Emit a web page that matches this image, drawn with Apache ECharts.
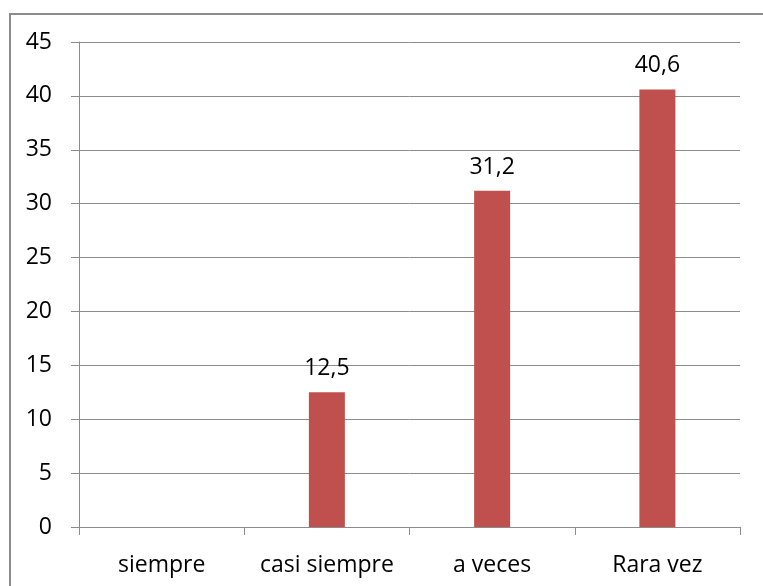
<!DOCTYPE html>
<html>
<head>
<meta charset="utf-8">
<script src="https://cdn.jsdelivr.net/npm/echarts@6/dist/echarts.min.js"></script>
<style>
  html, body { margin: 0; padding: 0; background: #fff; }
  #main { width: 763px; height: 586px; }
</style>
</head>
<body>
<div id="main"></div>
<script>
// chart data
var categories = ['siempre', 'casi siempre', 'a veces', 'Rara vez'];
var values = [0, 12.5, 31.2, 40.6];
var yTicks = { min: 0, max: 45, step: 5 };

var chart = echarts.init(document.getElementById('main'));
var font = '"Open Sans", "Liberation Sans", sans-serif';

chart.setOption({
  animation: false,
  backgroundColor: '#fff',
  grid: { left: 79, right: 23, top: 42, bottom: 59 },
  graphic: [
    // outer chart frame (cut off at right and bottom in the reference)
    { type: 'polyline', shape: { points: [[10, 586], [10, 14], [763, 14]] },
      style: { stroke: '#8c8c8c', lineWidth: 2, fill: null } }
  ],
  xAxis: {
    type: 'category',
    data: categories,
    axisLine: { lineStyle: { color: '#8c8c8c', width: 1 } },
    axisTick: { show: true, length: 8, interval: 0, lineStyle: { color: '#8c8c8c' } },
    axisLabel: { color: '#000', fontFamily: font, fontSize: 23, margin: 27, interval: 0 }
  },
  yAxis: {
    type: 'value',
    min: yTicks.min,
    max: yTicks.max,
    interval: yTicks.step,
    axisLine: { show: true, lineStyle: { color: '#8c8c8c', width: 1 } },
    axisTick: { show: true, length: 8, lineStyle: { color: '#8c8c8c' } },
    axisLabel: { color: '#000', fontFamily: font, fontSize: 23, margin: 27 },
    splitLine: { show: true, lineStyle: { color: '#8c8c8c', width: 1 } }
  },
  series: [{
    type: 'bar',
    data: values,
    barWidth: 36,
    itemStyle: { color: '#C0504D' },
    label: {
      show: true,
      position: 'top',
      distance: 12,
      color: '#000',
      fontFamily: font,
      fontSize: 23,
      formatter: function (p) {
        return p.value === 0 ? '' : String(p.value).replace('.', ',');
      }
    }
  }]
});
</script>
</body>
</html>
